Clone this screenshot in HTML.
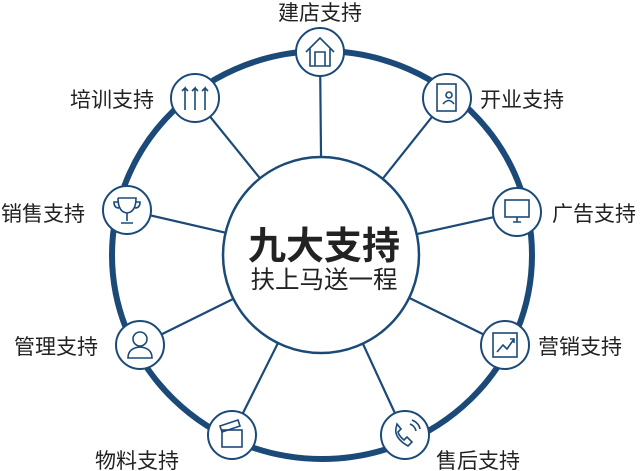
<!DOCTYPE html>
<html><head><meta charset="utf-8"><style>
body{margin:0;background:#fff;}
svg{display:block}
text{font-family:"Liberation Sans","Noto Sans CJK SC",sans-serif;fill:#222}
</style></head><body>
<svg width="640" height="471" viewBox="0 0 640 471">
<ellipse cx="322" cy="255" rx="210" ry="204" fill="none" stroke="#1b4a78" stroke-width="6"/>
<g stroke="#1b4a78" stroke-width="2.2">
<line x1="322" y1="255" x2="320" y2="52"/>
<line x1="322" y1="255" x2="447" y2="98"/>
<line x1="322" y1="255" x2="517" y2="212"/>
<line x1="322" y1="255" x2="505" y2="345"/>
<line x1="322" y1="255" x2="405" y2="435"/>
<line x1="322" y1="255" x2="232" y2="435"/>
<line x1="322" y1="255" x2="140" y2="345"/>
<line x1="322" y1="255" x2="127" y2="210"/>
<line x1="322" y1="255" x2="195" y2="98"/>
</g>
<circle cx="321" cy="255" r="98" fill="#fff" stroke="#1b4a78" stroke-width="2.5"/>
<g fill="#fff" stroke="#1b4a78" stroke-width="2">
<circle cx="320" cy="52" r="24"/>
<circle cx="447" cy="98" r="24"/>
<circle cx="517" cy="212" r="24"/>
<circle cx="505" cy="345" r="24"/>
<circle cx="405" cy="435" r="24"/>
<circle cx="232" cy="435" r="24"/>
<circle cx="140" cy="345" r="24"/>
<circle cx="127" cy="210" r="24"/>
<circle cx="195" cy="98" r="24"/>
</g>
<g fill="none" stroke="#1b4a78" stroke-width="1.6">
<path d="M306 52 L320 38 L334 52 M310 48 V66 H330 V48 M315 66 V52 H325 V66"/>
<rect x="437" y="84" width="19" height="27"/><circle cx="449" cy="95" r="3"/><path d="M443 104 q6 -7 11 0"/>
<rect x="505" y="200" width="24" height="17"/><path d="M513 222 h8 M517 217 v5"/>
<rect x="493" y="333" width="24" height="24"/><path d="M497 352 l6 -7 4 4 7 -10 m-4 0 h4 v4"/>
<path d="M396 428 q-2 10 12 18 l4 -4 -5 -5 -3 3 q-5 -4 -6 -8 l3 -3 -4 -5 z M410 424 q5 2 6 7 M412 420 q7 3 8 9"/>
<rect x="222" y="430" width="20" height="17"/><path d="M220 426 l18 -6 2 6 -18 6 z"/>
<circle cx="140" cy="339" r="7"/><path d="M128 358 q0 -10 12 -11 q12 1 12 11 z"/>
<path d="M118 198 h18 q0 14 -9 15 q-9 -1 -9 -15 M127 213 v8 M121 223 h12 M118 202 h-4 q0 6 5 6 M136 202 h4 q0 6 -5 6"/>
<path d="M185 110 v-22 l-3 3 m3 -3 l3 3 M195 110 v-22 l-3 3 m3 -3 l3 3 M205 110 v-22 l-3 3 m3 -3 l3 3"/>
</g>
<g font-size="21">
<text x="320" y="20" text-anchor="middle">建店支持</text>
<text x="480" y="107">开业支持</text>
<text x="552" y="221">广告支持</text>
<text x="538" y="354">营销支持</text>
<text x="436" y="468">售后支持</text>
<text x="95" y="468">物料支持</text>
<text x="14" y="354">管理支持</text>
<text x="1" y="221">销售支持</text>
<text x="70" y="107">培训支持</text>
</g>
<text x="324" y="259" text-anchor="middle" font-size="38" font-weight="bold" style="fill:#222">九大支持</text>
<text x="324" y="288" text-anchor="middle" font-size="24.5">扶上马送一程</text>
</svg>
</body></html>
